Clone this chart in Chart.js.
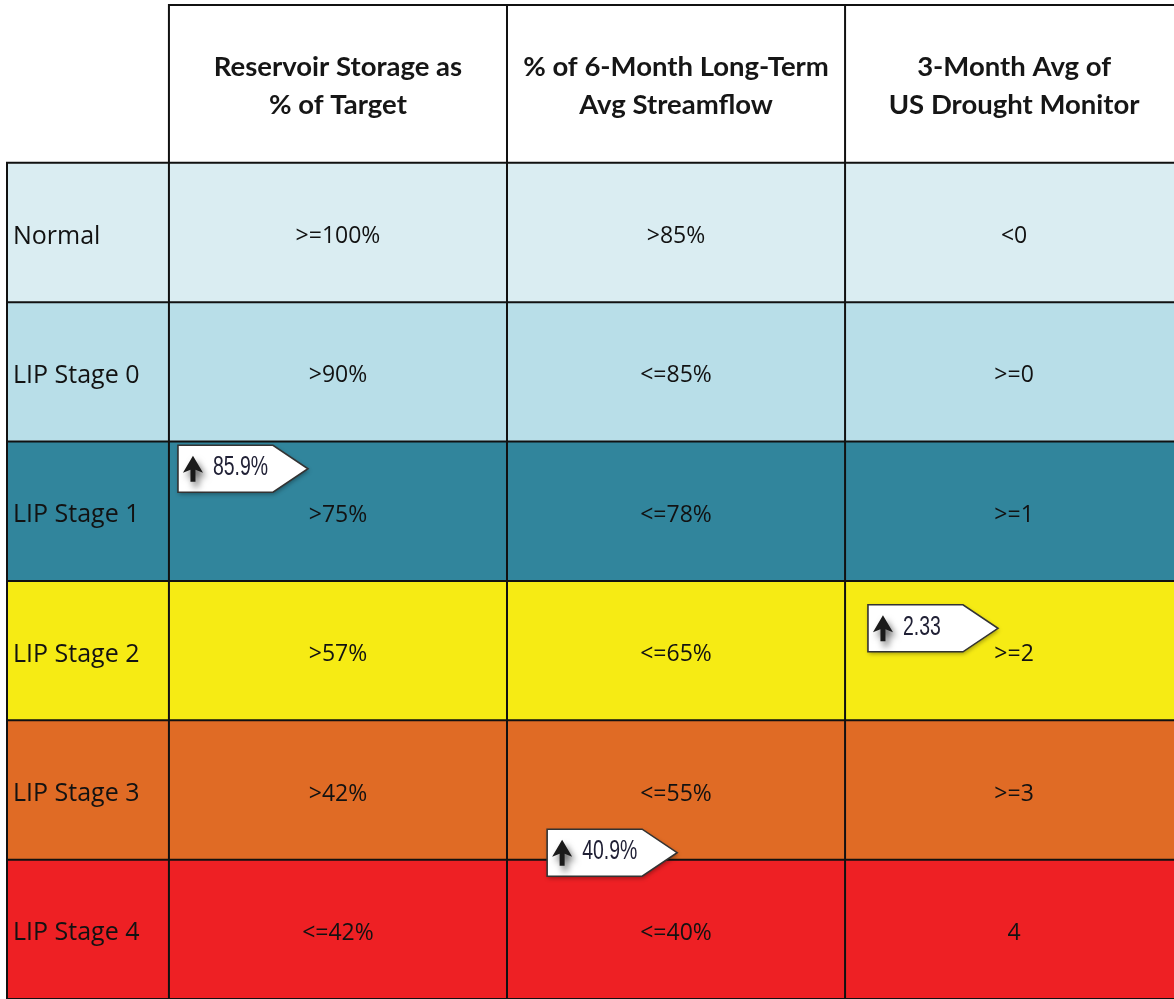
<!DOCTYPE html>
<html>
<head>
<meta charset="utf-8">
<script src="https://cdn.jsdelivr.net/npm/chart.js@4/dist/chart.umd.min.js"></script>
<style>
html,body{margin:0;padding:0;background:#fff;}
#wrap{position:relative;width:1174px;height:999px;}
</style>
</head>
<body>
<div id="wrap"><canvas id="c" width="1174" height="999"></canvas></div>
<script>
// ---- data ----
const stages = ['Normal','LIP Stage 0','LIP Stage 1','LIP Stage 2','LIP Stage 3','LIP Stage 4'];
const stageColors = ['#DAEDF2','#B8DEE8','#31859C','#F6EB14','#E06B25','#EE2024'];
const headers = [
  ['Reservoir Storage as','% of Target'],
  ['% of 6-Month Long-Term','Avg Streamflow'],
  ['3-Month Avg of','US Drought Monitor']
];
const reservoirThresholds = ['>=100%','>90%','>75%','>57%','>42%','<=42%'];
const streamflowThresholds = ['>85%','<=85%','<=78%','<=65%','<=55%','<=40%'];
const droughtThresholds = ['<0','>=0','>=1','>=2','>=3','4'];
// current indicator readings: label, position across columns, position in stage units
const currentLabels = ['85.9%','2.33','40.9%'];
const currentColumnPos = [0.219, 2.26, 1.311];
const currentStagePos = [2.195, 3.34, 4.95];

const columns = [reservoirThresholds, streamflowThresholds, droughtThresholds];

// layout (x: columns, label column width in column units; y: rows, header height in row units)
const LABEL_W = 0.479, X_MAX = 2.973, HEADER_H = 1.14;

const rowBars = stages.map((s,i)=>({x:[-LABEL_W, X_MAX], y:i+0.5}));
const markers = currentLabels.map((l,i)=>({x:currentColumnPos[i], y:currentStagePos[i], label:l}));

const HFONT = 'Lato, "Open Sans", sans-serif';
const BFONT = '"Open Sans", Lato, sans-serif';

const tablePlugin = {
  id:'tablePlugin',
  afterDatasetsDraw(chart){
    const ctx = chart.ctx, xs = chart.scales.x, ys = chart.scales.y;
    const X = v=>xs.getPixelForValue(v), Y = v=>ys.getPixelForValue(v);
    ctx.save();
    // headers
    ctx.fillStyle = '#161616';
    ctx.textAlign='center'; ctx.textBaseline='middle';
    ctx.font = 'bold 27.5px '+HFONT;
    headers.forEach((h,c)=>{
      const cx = (X(c)+X(c+1))/2;
      ctx.fillText(h[0], cx, 67);
      ctx.fillText(h[1], cx, 105);
    });
    // row labels
    ctx.fillStyle = '#121212';
    ctx.font = '25px '+BFONT;
    ctx.textAlign='left';
    stages.forEach((s,r)=>{
      ctx.fillText(s, X(-LABEL_W)+6, Y(r+0.5)+4);
    });
    ctx.font = '23px '+BFONT;
    ctx.textAlign='center';
    columns.forEach((col,c)=>{
      const cx=(X(c)+X(c+1))/2;
      col.forEach((t,r)=>ctx.fillText(t, cx, Y(r+0.5)+4));
    });
    // borders
    ctx.strokeStyle='#111'; ctx.lineWidth=2;
    ctx.beginPath();
    for(let r=0;r<=stages.length;r++){
      ctx.moveTo(X(-LABEL_W)-1, Y(r)); ctx.lineTo(chart.width, Y(r));
    }
    ctx.moveTo(X(0)-1, Y(-HEADER_H)+1); ctx.lineTo(chart.width, Y(-HEADER_H)+1);
    ctx.moveTo(X(-LABEL_W), Y(0)); ctx.lineTo(X(-LABEL_W), Y(stages.length));
    for(let c=0;c<3;c++){
      ctx.moveTo(X(c), Y(-HEADER_H)); ctx.lineTo(X(c), Y(stages.length));
    }
    ctx.stroke();
    // markers
    const meta = chart.getDatasetMeta(1);
    meta.data.forEach((pt,i)=>{
      const cx=pt.x, cy=pt.y;
      const w=130, h=47, tip=35;
      const l=cx-w/2, t=cy-h/2;
      ctx.save();
      ctx.shadowColor='rgba(0,0,0,0.35)'; ctx.shadowBlur=4; ctx.shadowOffsetX=1; ctx.shadowOffsetY=2;
      ctx.beginPath();
      ctx.moveTo(l,t); ctx.lineTo(l+w-tip,t); ctx.lineTo(l+w,cy); ctx.lineTo(l+w-tip,t+h); ctx.lineTo(l,t+h); ctx.closePath();
      ctx.fillStyle='#fff'; ctx.fill();
      ctx.restore();
      ctx.strokeStyle='#333'; ctx.lineWidth=1.6; ctx.stroke();
      // arrow icon
      ctx.save();
      ctx.shadowColor='rgba(0,0,0,0.6)'; ctx.shadowBlur=7; ctx.shadowOffsetX=3; ctx.shadowOffsetY=5;
      const ax=l+15, ay=cy;
      ctx.fillStyle='#1a1a1a';
      ctx.beginPath();
      ctx.moveTo(ax, ay-13); ctx.lineTo(ax+10, ay+4); ctx.lineTo(ax+2.5, ay+1); ctx.lineTo(ax+2.5, ay+13);
      ctx.lineTo(ax-2.5, ay+13); ctx.lineTo(ax-2.5, ay+1); ctx.lineTo(ax-10, ay+4); ctx.closePath(); ctx.fill();
      ctx.restore();
      ctx.save();
      ctx.fillStyle='#202035';
      ctx.font='27px "Liberation Sans Narrow", "Liberation Sans", sans-serif';
      ctx.textAlign='left'; ctx.textBaseline='middle';
      ctx.translate(l+35, cy-1);
      ctx.scale(0.72,1);
      ctx.fillText(chart.data.datasets[1].data[i].label, 0, 0);
      ctx.restore();
    });
    ctx.restore();
  }
};

new Chart(document.getElementById('c'), {
  type:'bar',
  data:{
    datasets:[
      {type:'bar', data:rowBars, backgroundColor:stageColors, borderWidth:0,
       categoryPercentage:1, barPercentage:1, grouped:false, borderSkipped:false},
      {type:'scatter', data:markers, pointRadius:0, showLine:false}
    ]
  },
  options:{
    indexAxis:'y',
    responsive:false, animation:false,
    layout:{padding:{left:7,top:4,right:0,bottom:0}},
    plugins:{legend:{display:false}, tooltip:{enabled:false}},
    scales:{
      x:{type:'linear', min:-LABEL_W, max:X_MAX, display:false, offset:false},
      y:{type:'linear', min:-HEADER_H, max:stages.length, reverse:true, display:false, offset:false,
         afterBuildTicks(scale){ scale.ticks = stages.map((s,i)=>({value:i})).concat([{value:stages.length}]); }}
    }
  },
  plugins:[tablePlugin]
});
</script>
</body>
</html>
